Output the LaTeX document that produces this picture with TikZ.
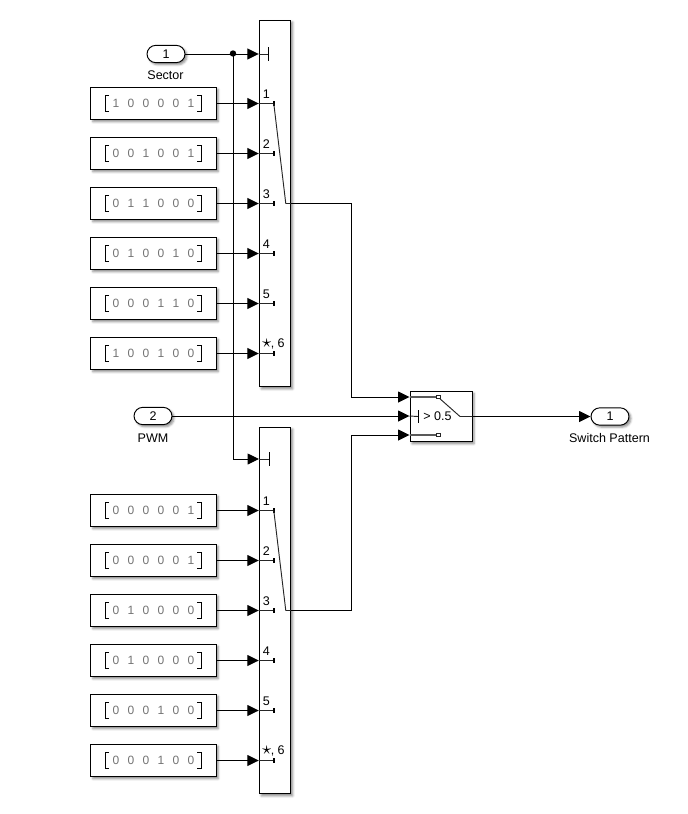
\documentclass[tikz,border=0pt]{standalone}
\usepackage{fontspec}
\setmainfont{Liberation Sans}
\usetikzlibrary{arrows.meta,shadows.blur,calc}
\newcommand{\dg}[1]{\makebox[11.25pt]{#1}}
\newcommand{\vecdigits}[6]{\dg{#1}\dg{#2}\dg{#3}\dg{#4}\dg{#5}\dg{#6}}
\tikzset{
  x=0.75pt,y=-0.75pt,
  sh/.style={blur shadow={shadow xshift=1.5pt,shadow yshift=-1.5pt,shadow blur radius=1.6pt,shadow opacity=45}},
  block/.style={draw=black,line width=.72pt,fill=white,sh,inner sep=0pt},
  constbox/.style={block,minimum width=94pt,minimum height=24.4pt,text=black!55,font=\fontsize{9}{10}\selectfont},
  switchbox/.style={block,minimum width=23.6pt,minimum height=275.2pt},
  portshape/.style={block,rounded corners=6.6pt,minimum width=28.5pt,minimum height=13pt,font=\fontsize{9.4}{10}\selectfont},
  lab/.style={font=\fontsize{9.4}{10}\selectfont,inner sep=0pt},
  wire/.style={line width=.72pt,-{Triangle[length=8.6pt,width=8.2pt]}},
  inner/.style={line width=.7pt,draw=black!85},
  tick/.style={line width=1.2pt},
}
\begin{document}
\begin{tikzpicture}
\useasboundingbox (0,0) rectangle (687,814);
% sources
\node[portshape] (in1) at (166,54) {1};
\node[lab] (l1) at (165.5,75) {Sector};
\node[portshape] (in2) at (153,416) {2};
\node[lab] (l2) at (153,438) {PWM};
% multiport switches
\node[switchbox] (swA) at (275,203.5) {};
\node[switchbox] (swB) at (275,610.5) {};
% outer switch and out port
\node[block,minimum width=46.5pt,minimum height=38pt] (sel) at (441,416.5) {};
\node[portshape] (out1) at (610,416.5) {1};
\node[lab] (l3) at (609.5,438) {Switch Pattern};
% constants
\foreach \n/\y/\a/\b/\c/\d/\e/\f in {
  A1/103.5/1/0/0/0/0/1, A2/153.5/0/0/1/0/0/1, A3/203.5/0/1/1/0/0/0,
  A4/253.5/0/1/0/0/1/0, A5/303.5/0/0/0/1/1/0, A6/353.5/1/0/0/1/0/0,
  B1/510.5/0/0/0/0/0/1, B2/560.5/0/0/0/0/0/1, B3/610.5/0/1/0/0/0/0,
  B4/660.5/0/1/0/0/0/0, B5/710.5/0/0/0/1/0/0, B6/760.5/0/0/0/1/0/0}{
  \node[constbox] (c\n) at (153.5,\y) {\vecdigits{\a}{\b}{\c}{\d}{\e}{\f}};
  \draw[line width=.7pt] ($(c\n.center)+(-44.5,-8)$) -- ++(-4,0) -- ++(0,16) -- ++(4,0);
  \draw[line width=.7pt] ($(c\n.center)+(43.5,-8)$) -- ++(4,0) -- ++(0,16) -- ++(-4,0);
  \coordinate (p\n) at (swA.west |- c\n.center);
  \draw[wire] (c\n.east) -- (p\n);
  \draw[inner] (p\n) -- ++(15,0) coordinate (t\n);
  \draw[tick] ($(t\n)+(0,-2.5)$) -- ($(t\n)+(0,2.5)$);
}
% port labels
\foreach \n in {A,B}{
  \foreach \i in {1,...,5}{
    \node[lab] at ($(p\n\i)+(7.5,-9.5)$) {\i};
  }
  \node[lab,anchor=west] at ($(p\n6)+(3,-9.5)$) {\raisebox{-.2pt}{\scalebox{1.5}{$\star$}}\kern-.4pt, 6};
  \draw[inner] (t\n1) -- ($(p\n3)+(27,0)$) -- ($(p\n3)+(32,0)$);
}
% control ports
\coordinate (ctlA) at (swA.west |- in1.east);
\coordinate (ctlB) at (259,459);
\fill (233,53.5) coordinate (jn) circle (3.2);
\draw[wire] (in1.east) -- (ctlA);
\draw[wire] (jn) -- (jn |- ctlB) -- (ctlB);
\foreach \q in {ctlA,ctlB}{
  \draw[inner] (\q) -- ++(10,0);
  \draw[line width=.7pt] ($(\q)+(10,-7)$) -- ($(\q)+(10,7)$);
}
% switch outputs
\coordinate (selT) at (sel.west |- 0,397);
\coordinate (selM) at (sel.west |- in2.east);
\coordinate (selB) at (sel.west |- 0,435);
\draw[wire] (swA.east |- pA3) -- (351,203.5) -- (351,397) -- (selT);
\draw[wire] (swB.east |- pB3) -- (351,610.5) -- (351,435) -- (selB);
\draw[wire] (in2.east) -- (selM);
\draw[wire] (sel.east) -- (out1.west);
% inside outer switch
\draw[inner,line width=.9pt,draw=black!65] (selT) -- (436,397);
\draw[inner,fill=white] (436,395.2) rectangle (440,398.8);
\draw[inner] (440,398.8) -- (460,416.5) -- (sel.east);
\draw[inner,line width=.9pt,draw=black!65] (selB) -- (436,435);
\draw[inner,fill=white] (436,433.2) rectangle (440,436.8);
\draw[inner] (selM) -- (418,416.5);
\draw[line width=.7pt] (418,410) -- (418,423);
\node[lab,anchor=west] (thr) at (423,416.5) {> 0.5};
\end{tikzpicture}
\end{document}
